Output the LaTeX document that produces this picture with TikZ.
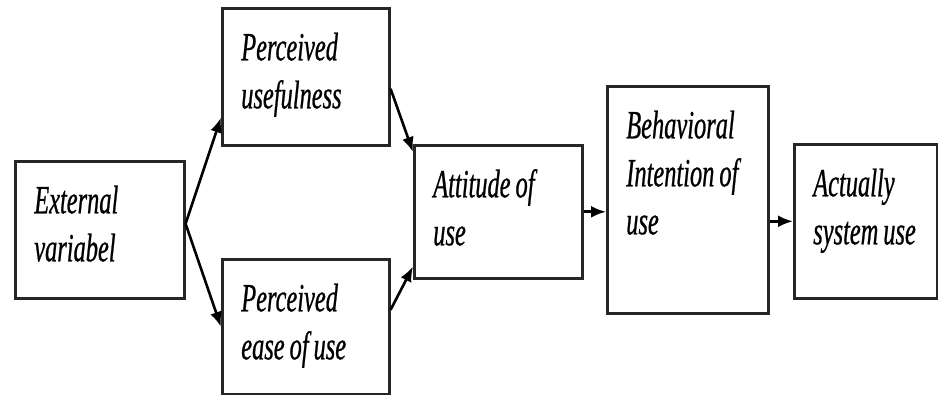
\documentclass[tikz,border=0pt]{standalone}
\usepackage{fontspec}
\newfontfamily\tamfont{Liberation Serif}[FakeStretch=0.61,FakeBold=0.6]
\usetikzlibrary{arrows.meta}

\begin{document}
\begin{tikzpicture}[x=1pt,y=-1pt,-{Latex[length=15pt,width=12pt]},line width=2.6pt,
                box/.style={draw=black!85, anchor=north west, inner xsep=19pt, inner ysep=0pt,
                  text height=52pt, align=left, font=\tamfont\itshape\fontsize{40}{48}\selectfont,
                  execute at begin node={\spaceskip=5pt plus 1pt\relax}}]

            \useasboundingbox (0,0) rectangle (938,395);

            \node[box, text width=131pt, text depth=85pt] (EV) at (14,160) {External\\variabel};
            \node[box, text width=129pt, text depth=85pt] (PU) at (221,7) {Perceived\\usefulness};
            \node[box, text width=129pt, text depth=83pt] (PEU) at (221,258) {Perceived\\ease of use};
            \node[box, text width=130pt, text depth=81pt] (ATU) at (413,144) {Attitude of\\use};
            \node[box, text width=123pt, text depth=175pt] (BI) at (606,85) {Behavioral\\Intention of\\use};
            \node[box, text width=105pt, text depth=102pt] (ASU) at (793,143) {Actually\\system~use};

            \path
            ([yshift=6pt]EV.east) edge ([yshift=29pt]PU.south west)
            ([yshift=6pt]EV.east) edge (PEU.west)
            ([yshift=-12pt]PU.east) edge ([yshift=-8pt]ATU.north west)
            ([yshift=17pt]PEU.east) edge ([yshift=13pt]ATU.south west)
            (ATU.east) edge (ATU.east -| BI.west)
            (ASU.west -| BI.east) edge (ASU.west);

        \end{tikzpicture}
\end{document}
